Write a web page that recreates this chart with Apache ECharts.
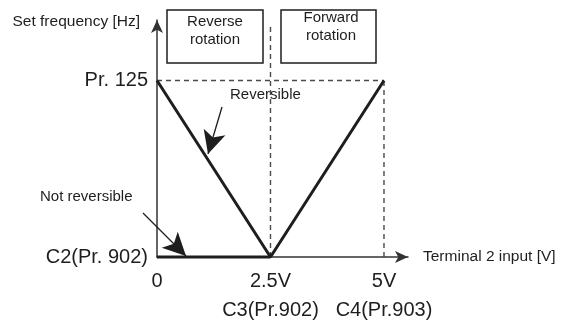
<!DOCTYPE html>
<html>
<head>
<meta charset="utf-8">
<script src="https://cdn.jsdelivr.net/npm/echarts@6/dist/echarts.min.js"></script>
<style>
html,body{margin:0;padding:0;background:#fff;}
#chart{width:561px;height:325px;}
</style>
</head>
<body>
<div id="chart"></div>
<script>
// ---- data ----
const xTickValues = [0, 2.5, 5];
const xTickLabels = ['0', '2.5V\nC3(Pr.902)', '5V\nC4(Pr.903)'];
const yTickValues = [0, 125];
const yTickLabels = ['C2(Pr. 902)', 'Pr. 125'];
const reversibleX = [0, 2.5, 5];
const reversibleY = [125, 0, 125];
const notReversibleX = [0, 2.5];
const notReversibleY = [0, 0];
const guideHx = [0, 5];
const guideHy = [125, 125];
const guideV5x = [5, 5];
const guideV5y = [0, 125];
const guideV25x = [2.5, 2.5];
const guideV25y = [0, 165.7];
const xName = 'Terminal 2 input [V]';
const yName = 'Set frequency [Hz]';

const zip = (xs, ys) => xs.map((x, i) => [x, ys[i]]);
const FONT = 'Liberation Sans, Arial, Helvetica, sans-serif';
const INK = '#1e1e1e';

const chart = echarts.init(document.getElementById('chart'), null, {renderer: 'canvas'});

function dashed(data) {
  return {
    type: 'line', data: data, symbol: 'none', silent: true, clip: false,
    lineStyle: {color: '#4a4a4a', width: 1.4, type: [5, 4]}, z: 1
  };
}

const option = {
  animation: false,
  backgroundColor: '#fff',
  grid: {left: 157, top: 20, right: 153, bottom: 66, containLabel: false},
  xAxis: {
    type: 'value', min: 0, max: 5.529, interval: 2.5,
    name: xName, nameLocation: 'end', nameGap: 15,
    nameTextStyle: {fontFamily: FONT, fontSize: 15.5, color: INK, align: 'left', verticalAlign: 'middle', padding: [0, 0, 3, 0]},
    axisLine: {show: true, symbol: ['none', 'arrow'], symbolSize: [9, 13],
      lineStyle: {color: '#333', width: 1.5}},
    axisTick: {show: false},
    splitLine: {show: false},
    axisLabel: {
      showMaxLabel: false, margin: 10,
      fontFamily: FONT, fontSize: 20, color: INK, lineHeight: 29,
      formatter: function (v) {
        const i = xTickValues.indexOf(v);
        return i >= 0 ? xTickLabels[i] : '';
      }
    }
  },
  yAxis: {
    type: 'value', min: 0, max: 167.8, interval: 125,
    name: yName, nameLocation: 'end', nameGap: -2,
    nameTextStyle: {fontFamily: FONT, fontSize: 15.5, color: INK, align: 'right', verticalAlign: 'middle', padding: [0, 17, 0, 0]},
    axisLine: {show: true, symbol: ['none', 'arrow'], symbolSize: [9, 13],
      lineStyle: {color: '#333', width: 1.5}},
    axisTick: {show: false},
    splitLine: {show: false},
    axisLabel: {
      showMaxLabel: false, margin: 9,
      fontFamily: FONT, fontSize: 20, color: INK,
      formatter: function (v) {
        const i = yTickValues.indexOf(v);
        return i >= 0 ? yTickLabels[i] : '';
      }
    }
  },
  series: [
    dashed(zip(guideHx, guideHy)),
    dashed(zip(guideV5x, guideV5y)),
    dashed(zip(guideV25x, guideV25y)),
    {
      type: 'line', name: 'Reversible', data: zip(reversibleX, reversibleY),
      symbol: 'none', clip: false, z: 3,
      lineStyle: {color: INK, width: 3}
    },
    {
      type: 'line', name: 'Not reversible', data: zip(notReversibleX, notReversibleY),
      symbol: 'none', clip: false, z: 3,
      lineStyle: {color: INK, width: 3},
      markLine: {
        silent: true, symbol: ['none', 'arrow'], symbolSize: [17, 23],
        label: {show: false},
        lineStyle: {color: INK, width: 1.3, type: 'solid'},
        data: [
          [{x: 222, y: 107, symbol: 'none'}, {x: 208, y: 154}],
          [{x: 143, y: 213, symbol: 'none'}, {x: 186, y: 256}]
        ]
      }
    }
  ],
  graphic: [
    {type: 'rect', shape: {x: 167, y: 10, width: 96, height: 53}, style: {fill: 'none', stroke: INK, lineWidth: 1.5}},
    {type: 'text', x: 215, y: 13, style: {text: 'Reverse\nrotation', font: '15px ' + FONT, fill: INK, align: 'center', verticalAlign: 'top', lineHeight: 18}},
    {type: 'rect', shape: {x: 281, y: 10, width: 95, height: 53}, style: {fill: 'none', stroke: INK, lineWidth: 1.5}},
    {type: 'text', x: 331, y: 9, style: {text: 'Forward\nrotation', font: '15px ' + FONT, fill: INK, align: 'center', verticalAlign: 'top', lineHeight: 18}},
    {type: 'text', x: 230, y: 95, style: {text: 'Reversible', font: '15px ' + FONT, fill: INK, align: 'left', verticalAlign: 'middle'}},
    {type: 'text', x: 40, y: 197, style: {text: 'Not reversible', font: '15px ' + FONT, fill: INK, align: 'left', verticalAlign: 'middle'}}
  ]
};
chart.setOption(option);
</script>
</body>
</html>
